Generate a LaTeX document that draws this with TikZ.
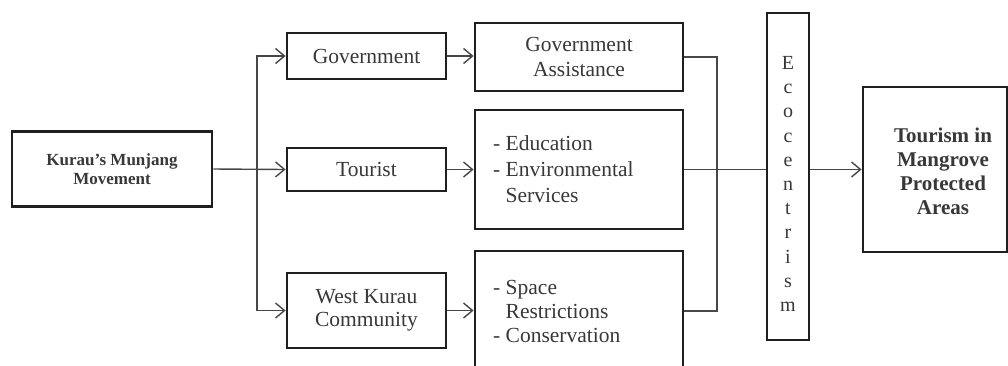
\documentclass[tikz,border=0pt]{standalone}
\usepackage{fontspec}
\setmainfont{Liberation Serif}
\usetikzlibrary{arrows.meta}
\begin{document}
\begin{tikzpicture}[x=1pt,y=-1pt,
  box/.style={draw=black!88,line width=2.8pt,inner sep=0pt,align=center,text=black!78},
  plain/.style={inner sep=0pt,text=black!78},
  conn/.style={draw=black!72,line width=1.4pt},
  arr/.style={conn,-{Straight Barb[length=9pt,width=15pt,line width=1.4pt]}},
  big/.style={font=\fontsize{21.5}{25}\selectfont},
  small/.style={font=\fontsize{17}{19.5}\selectfont\bfseries}]
\useasboundingbox (0,0) rectangle (1008,365);
\fill[white] (0,0) rectangle (1008,365);
\clip (0,0) rectangle (1008,365);

% left column
\node[box,small,minimum width=200pt,minimum height=75pt] (kurau) at (112,169) {Kurau's Munjang\\Movement};

% middle column
\node[box,big,minimum width=159pt,minimum height=46pt] (gov) at (366.5,56) {Government};
\node[box,big,minimum width=159pt,minimum height=43pt] (tourist) at (366.5,169.5) {Tourist};
\node[box,minimum width=159pt,minimum height=75pt,font=\fontsize{21.5}{23}\selectfont] (west) at (366.5,310.5) {West Kurau\\Community};

% third column
\node[box,big,minimum width=208pt,minimum height=68pt] (gova) at (579,57) {Government\\Assistance};
\node[box,minimum width=208pt,minimum height=119pt] (edu) at (579,169.5) {};
\node[plain,align=left,anchor=west,font=\fontsize{21.5}{26}\selectfont] (edutxt) at (493,169.5) {- Education\\- Environmental\\\phantom{- }Services};
\node[box,minimum width=208pt,minimum height=120pt] (space) at (579,311) {};
\node[plain,align=left,anchor=west,font=\fontsize{21.5}{24}\selectfont] (spacetxt) at (493,311) {- Space\\\phantom{- }Restrictions\\- Conservation};

% ecocentrism
\node[box,minimum width=42pt,minimum height=327pt] (eco) at (788,176.5) {};
\node[plain,align=center,font=\fontsize{20}{24.2}\selectfont] (ecotxt) at (788,184) {E\\c\\o\\c\\e\\n\\t\\r\\i\\s\\m};

% result
\node[box,minimum width=144pt,minimum height=165pt] (tour) at (935,169.5) {};
\node[plain,align=center,font=\fontsize{21}{24}\selectfont\bfseries] (tourtxt) at (943,171) {Tourism in\\Mangrove\\Protected\\Areas};

% connectors
\coordinate (split) at (257,169);
\coordinate (join) at (717,169);
\draw[arr] (kurau.east) -- (tourist.west);
\draw[arr] (split) |- (gov.west);
\draw[arr] (split) |- (west.west);
\draw[arr] (gov.east) -- (gov.east -| gova.west);
\draw[arr] (tourist.east) -- (tourist.east -| edu.west);
\draw[arr] (west.east) -- (west.east -| space.west);
\draw[conn] (gova.east) -| (join) |- (space.east);
\draw[conn] (edu.east) -- (edu.east -| eco.west);
\draw[arr] (eco.east |- tour.west) -- (tour.west);
\end{tikzpicture}
\end{document}
